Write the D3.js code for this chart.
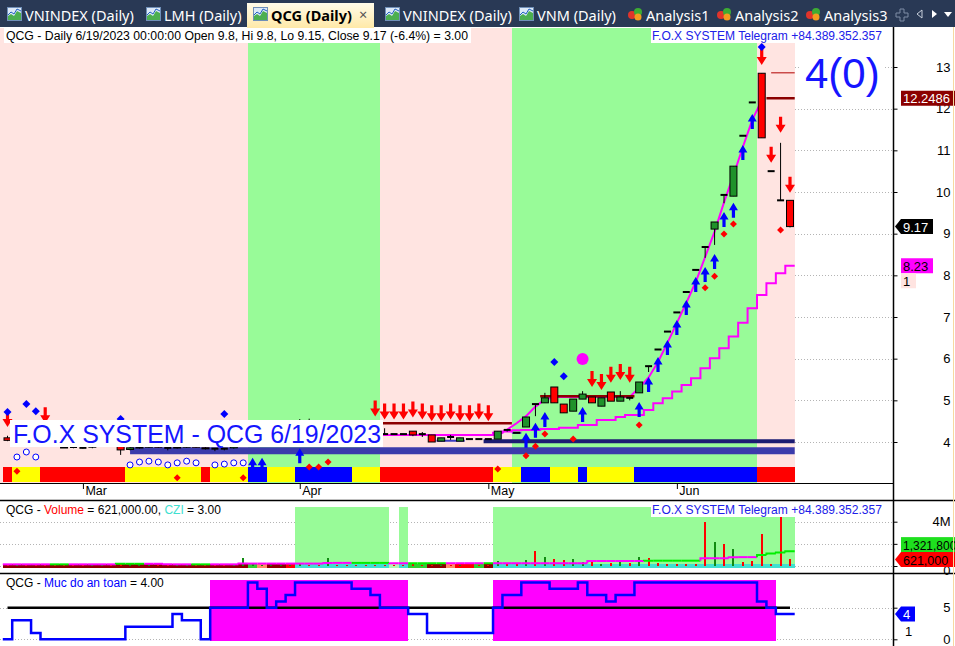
<!DOCTYPE html>
<html>
<head>
<meta charset="utf-8">
<script src="https://cdn.jsdelivr.net/npm/d3@7"></script>
<style>
  body { margin: 0; background: #fff; }
  svg { display: block; }
  text { font-family: "Liberation Sans", Arial, sans-serif; }
  .tab { font-family: "Noto Sans", "Open Sans", sans-serif; font-size: 14.5px; }
</style>
</head>
<body>
<svg id="chart" width="955" height="646"></svg>
<script>
// ---------------- data ----------------
var symbol = "QCG";
var dates = ["2/17","2/20","2/21","2/22","2/23","2/24","2/27","2/28",
  "3/1","3/2","3/3","3/6","3/7","3/8","3/9","3/10","3/13","3/14","3/15","3/16","3/17","3/20","3/21","3/22","3/23","3/24","3/27","3/28","3/29","3/30","3/31",
  "4/3","4/4","4/5","4/6","4/7","4/10","4/11","4/12","4/13","4/14","4/17","4/18","4/19","4/20","4/21","4/24","4/25","4/26","4/27","4/28",
  "5/4","5/5","5/8","5/9","5/10","5/11","5/12","5/15","5/16","5/17","5/18","5/19","5/22","5/23","5/24","5/25","5/26","5/29","5/30","5/31",
  "6/1","6/2","6/5","6/6","6/7","6/8","6/9","6/12","6/13","6/14","6/15","6/16","6/19"];
var monthNames = ["Jan","Feb","Mar","Apr","May","Jun","Jul","Aug","Sep","Oct","Nov","Dec"];

var open = [4.10,4.04,4.12,4.10,4.04,3.98,3.88,3.88,
  3.86,3.88,3.90,3.92,3.93,3.82,3.86,3.88,3.90,3.86,3.86,3.88,3.90,3.86,3.84,3.84,3.86,3.90,3.98,4.08,4.18,4.22,4.26,
  4.32,4.50,4.44,4.40,4.48,4.38,4.32,4.28,4.24,4.19,4.19,4.19,4.26,4.19,4.17,4.02,4.12,4.02,4.07,4.07,
  4.07,4.07,4.29,4.22,4.36,4.91,4.94,5.32,4.91,4.74,5.03,5.08,4.86,5.20,4.98,5.06,5.18,5.82,6.22,6.65,
  7.11,7.60,8.13,8.68,9.11,9.93,9.90,11.35,12.15,12.85,10.50,9.80,9.80];
var high = [4.15,4.10,4.14,4.12,4.06,4.00,3.92,3.92,
  3.90,3.92,3.94,3.95,3.95,3.88,3.90,3.92,3.92,3.86,3.90,3.92,3.94,3.88,3.84,3.84,3.92,4.00,4.10,4.20,4.26,4.30,4.36,
  4.55,4.56,4.50,4.52,4.50,4.42,4.36,4.32,4.28,4.33,4.19,4.19,4.26,4.24,4.17,4.10,4.17,4.10,4.07,4.07,
  4.07,4.26,4.29,4.22,4.60,4.91,5.18,5.32,4.91,5.03,5.22,5.08,5.06,5.20,5.22,5.06,5.44,5.82,6.22,6.65,
  7.11,7.60,8.13,8.68,9.28,9.93,10.62,11.35,12.15,12.85,10.50,11.18,9.80];
var low = [4.02,4.00,4.04,4.02,3.96,3.92,3.86,3.85,
  3.84,3.85,3.88,3.88,3.69,3.80,3.84,3.86,3.86,3.80,3.84,3.86,3.86,3.82,3.78,3.80,3.84,3.88,3.96,4.06,4.14,4.18,4.22,
  4.30,4.40,4.36,4.38,4.36,4.28,4.24,4.20,4.18,4.19,4.19,4.19,4.14,4.12,4.00,4.02,4.05,4.02,4.07,4.07,
  4.07,4.07,4.25,4.22,4.36,4.62,4.94,4.94,4.70,4.74,5.03,4.94,4.86,4.98,4.98,5.00,5.18,5.68,6.22,6.65,
  7.11,7.60,8.13,8.42,8.73,9.73,9.90,11.35,12.15,11.30,10.50,9.80,9.15];
var close = [4.04,4.08,4.08,4.04,3.98,3.95,3.86,3.88,
  3.86,3.90,3.92,3.90,3.81,3.86,3.88,3.90,3.88,3.86,3.88,3.90,3.88,3.84,3.84,3.84,3.90,3.98,4.08,4.18,4.22,4.26,4.32,
  4.50,4.44,4.40,4.48,4.38,4.32,4.28,4.24,4.20,4.19,4.19,4.19,4.17,4.19,4.00,4.10,4.12,4.10,4.07,4.07,
  4.07,4.26,4.29,4.22,4.60,4.91,5.06,4.94,4.70,5.03,5.15,4.94,5.06,4.98,5.08,5.06,5.44,5.82,6.22,6.65,
  7.11,7.60,8.13,8.68,9.28,9.93,10.62,11.35,12.15,11.30,10.50,9.80,9.17];

// volume in millions of shares
var volume = [0.12,0.20,0.22,0.10,0.08,0.10,0.08,0.06,
  0.10,0.08,0.06,0.08,0.22,0.06,0.08,0.05,0.07,0.06,0.08,0.06,0.05,0.07,0.10,0.20,0.10,0.72,0.15,0.12,0.10,0.12,0.10,
  0.15,0.10,0.12,0.75,0.10,0.12,0.08,0.10,0.12,0.10,0.08,0.10,0.15,0.10,0.12,0.10,0.10,0.12,0.08,0.08,
  0.10,0.47,0.19,0.25,0.56,1.33,0.78,0.65,0.56,0.65,0.40,0.40,0.15,0.25,0.50,0.30,0.78,0.70,0.25,0.15,
  0.19,0.19,0.15,3.97,2.20,2.00,1.50,0.34,0.47,2.90,0.19,4.60,0.621];
var volMA = [0.15,0.15,0.15,0.15,0.15,0.15,0.15,0.15,0.15,0.15,0.15,0.15,
  0.20,0.20,0.20,0.20,0.20,
  0.15,0.15,0.15,0.15,0.15,0.15,0.15,0.15,
  0.22,0.22,0.22,0.22,0.22,0.22,0.22,0.22,0.22,
  0.28,0.28,0.28,0.28,0.28,0.28,0.28,
  0.25,0.25,0.25,0.25,0.25,0.25,0.25,0.25,0.25,0.25,0.25,
  0.25,0.25,0.25,0.25,0.25,0.25,0.25,0.25,0.25,0.25,
  0.45,0.45,0.45,0.45,0.45,0.45,
  0.48,0.48,0.48,0.48,0.48,0.48,
  0.70,0.70,0.70,0.80,0.80,0.80,1.00,1.12,1.22,1.3218];
var volMAColor = "MMMMMGGMMMMMGGGMMMMMGGMMMMMMMMMMMMMMMGGGGMMGGGGMMMMGMMMMMMMMMMMMMMMMGGGGGGMMMMMMGGGG".split("");
var volStrip   = "DDDDDDDDDDDDDDDDDDDDDDDDDDGSDDRTTTTTTTTTTLTGGDDSRRGDTTTTTTTTTTTTTTTTTTTTTTTTTTTTTTTT".split("");
var volZone    = "-------------------------------GGGGGGGGGG-G---------GGGGGGGGGGGGGGGGGGGGGGGGGGGGGGGG".split("");

var bgZone = "PPPPPPPPPPPPPPPPPPPPPPPPPPGGGGGGGGGGGGGGPPPPPPPPPPPPPPGGGGGGGGGGGGGGGGGGGGGGGGGGPPPP".split("");
var ribbon = "RYYYRRRRRRRRRYYYYYYYYRYYYYBBYYYBBBBBBYYYRRRRRRRRRRRRYYYBBBYYYBYYYYYBBBBBBBBBBBBBRRRR".split("");

// "Muc do an toan" level per bar
var safety = [0,3,3,1,0,0,0,0,0,0,0,0,0,2,2,2,2,2,4,3,3,0,5,5,5,5,9,8,5,6,7,9,9,9,9,9,9,8,8,7,
  5,5,5,4,4,1,1,1,1,1,1,1,5,7,7,9,9,9,8,8,8,9,7,7,6,7,7,9,9,9,9,9,9,9,9,9,9,9,9,9,6,5,4,4];
var safetyLine = 5;

// two trailing lines (start bar + values)
var fastStart = 39;
var fastLine = [4.17,4.17,4.17,4.17,4.17,4.17,4.17,4.17,4.17,4.17,4.17,4.17,4.17,4.17,
  4.30,4.45,4.62,4.85,5.02,5.08,5.08,5.08,5.08,5.08,5.08,5.08,5.08,5.08,
  5.30,5.55,5.92,6.38,6.86,7.34,7.84,8.44,9.05,9.75,10.40,11.08,11.73,12.20];
var slowStart = 39;
var slowLine = [4.17,4.17,4.17,4.17,4.17,4.17,4.17,4.17,4.17,4.17,4.17,4.17,4.17,
  4.22,4.25,4.28,4.29,4.29,4.31,4.31,4.34,4.34,4.41,4.41,4.53,4.53,4.60,4.65,4.65,
  4.77,4.93,5.05,5.21,5.37,5.53,5.77,6.01,6.25,6.53,6.86,7.21,7.53,7.81,8.05,8.23];

// horizontal levels: [fromBar, toBar, price]
var resistLevels = [[39.5,53.5,4.45],[56.5,66.5,5.10],[80.5,83.5,12.25]];
var highLevels = [[81,83.5,12.86]];
var slateLevels = [[13,83.5,3.79]];
var navyLevels = [[50.5,83.5,4.02]];
var thinLevels = [[45.5,48.5,4.03],[53.5,54.5,4.22]];

// signals: [bar, price]
var redDown = [[0,4.36],[4,4.45],[39,4.61],[40,4.54],[41,4.54],[42,4.54],[43,4.59],[44,4.54],[45,4.50],[46,4.50],
  [47,4.54],[48,4.50],[49,4.50],[50,4.54],[51,4.50],[62,5.32],[63,5.25],[64,5.42],[65,5.49],[66,5.42],
  [80,13.05],[81,10.70],[82,11.42],[83,9.98]];
var blueUp = [[26,3.62],[27,3.62],[31,3.85],[55,4.22],[56,4.46],[57,4.72],[61,4.84],[67,4.96],[68,5.56],[69,6.04],
  [70,6.45],[71,6.93],[72,7.41],[73,7.96],[74,8.20],[75,8.51],[76,9.52],[77,9.74],[78,11.13],[79,11.87]];
var redDiamonds = [[1,3.30],[18,3.14],[25,3.14],[32,3.40],[33,3.40],[34,3.52],[52,3.35],[55,3.67],[56,3.90],
  [57,4.19],[60,4.07],[67,4.41],[74,7.70],[75,7.98],[76,8.99],[77,9.23],[82,9.09]];
var blueDiamonds = [[0,4.72],[2,4.91],[3,4.74],[12,4.55],[23,4.67],[58,5.92],[59,5.58],[80,13.48]];
var hollowDots = [[1,3.64],[2,3.76],[3,3.64],[13,3.45],[14,3.52],[15,3.54],[16,3.52],[17,3.45],[18,3.50],
  [19,3.54],[20,3.50],[22,3.45],[23,3.47],[24,3.50],[25,3.50]];
var bigDots = [[61,5.99]];

var priceTicks = [4,5,6,7,8,9,10,11,12,13];
var volTicks = [0,2,4];
var volTickLabels = ["0","","4M"];
var safetyTicks = [0,5];
var countLabel = "4(0)";
var extraValue = 1;

// ---------------- colours ----------------
var pink = "#ffe4e1", lightGreen = "#98fb98";
var candleGreen = "#1f922a";
var ribbonColor = { R: "#ff0000", Y: "#ffff00", B: "#0000ff" };
var stripColor = { D: "#8b0000", G: "#32cd32", S: "#ff8c69", R: "#ff0000", T: "#40e0d0", L: "#b4f5b4" };
var maColor = { M: "#ff00ff", G: "#00ee00" };

// ---------------- scales ----------------
var n = dates.length;
var x = d3.scaleLinear().domain([0, n - 1]).range([7.5, 790]);
var bw = x(1) - x(0);
var y = d3.scaleLinear().domain([4, 13]).range([442, 67]);
var yv = d3.scaleLinear().domain([0, 4]).range([566, 521.7]);
var ys = d3.scaleLinear().domain([0, 5]).range([639.3, 607.7]);

var axisX = 893.5;
var svg = d3.select("#chart");

function runs(codes) {
  var out = [];
  codes.forEach(function(c, i) {
    if (out.length && out[out.length - 1].code === c) out[out.length - 1].end = i;
    else out.push({ code: c, start: i, end: i });
  });
  return out;
}
function barLeft(i) { return x(i) - bw / 2; }
function barRight(i) { return x(i) + bw / 2; }

// ---------------- tab bar ----------------
svg.append("rect").attr("width", 955).attr("height", 27).attr("fill", "#293955");
var defs = svg.append("defs");
var grad = defs.append("linearGradient").attr("id", "activeTab").attr("x1", 0).attr("x2", 0).attr("y1", 0).attr("y2", 1);
grad.append("stop").attr("offset", "0%").attr("stop-color", "#fffbe9");
grad.append("stop").attr("offset", "100%").attr("stop-color", "#ffe9a8");
svg.append("rect").attr("x", 247).attr("y", 3).attr("width", 127).attr("height", 25).attr("fill", "url(#activeTab)");

var tabs = [
  { label: "VNINDEX (Daily)", x: 7, type: "chart" },
  { label: "LMH (Daily)", x: 146, type: "chart" },
  { label: "QCG (Daily)", x: 253, type: "chart", active: true },
  { label: "VNINDEX (Daily)", x: 385, type: "chart" },
  { label: "VNM (Daily)", x: 519, type: "chart" },
  { label: "Analysis1", x: 628, type: "analysis" },
  { label: "Analysis2", x: 717, type: "analysis" },
  { label: "Analysis3", x: 806, type: "analysis" }
];
tabs.forEach(function(t) {
  var g = svg.append("g").attr("transform", "translate(" + t.x + ",7)");
  if (t.type === "chart") {
    g.append("rect").attr("x", 0.5).attr("y", 0.5).attr("width", 14).attr("height", 13).attr("fill", "#dce9f8").attr("stroke", "#6f8fb8");
    g.append("path").attr("d", "M1,13 L1,9 L4,7 L7,9 L10,4 L14,6 L14,13 Z").attr("fill", "#4caf50");
    g.append("path").attr("d", "M1,8 L4,5 L7,7 L10,2 L14,4").attr("fill", "none").attr("stroke", "#2060c0").attr("stroke-width", 1);
  } else {
    g.append("circle").attr("cx", 4).attr("cy", 8).attr("r", 4).attr("fill", "#e0342b");
    g.append("circle").attr("cx", 10).attr("cy", 5).attr("r", 4).attr("fill", "#3dac34");
    g.append("circle").attr("cx", 10).attr("cy", 10).attr("r", 3.5).attr("fill", "#f39c1f");
  }
  svg.append("text").attr("class", "tab")
    .attr("x", t.x + 18).attr("y", 21)
    .attr("fill", t.active ? "#000" : "#fff")
    .attr("font-weight", t.active ? "bold" : "normal")
    .text(t.label);
});
svg.append("text").attr("class", "tab").attr("x", 359).attr("y", 20).attr("fill", "#555").attr("font-size", "13px").text("\u00d7");
// navigation icons
svg.append("path").attr("d", "M900,9h4v4h4v4h-4v4h-4v-4h-4v-4h4z").attr("fill", "none").attr("stroke", "#7f8da6");
svg.append("path").attr("d", "M922,10 L917,14 L922,18 Z").attr("fill", "none").attr("stroke", "#c8d0dc");
svg.append("path").attr("d", "M932,10 L937,14 L932,18 Z").attr("fill", "#fff");
svg.append("path").attr("d", "M944,12 L952,12 L948,17 Z").attr("fill", "#fff");

// ---------------- main price pane ----------------
var main = svg.append("g");

// dotted grid
main.selectAll(".pgrid").data(priceTicks).join("line")
  .attr("x1", 0).attr("x2", axisX).attr("y1", function(d) { return Math.round(y(d)) + 0.5; })
  .attr("y2", function(d) { return Math.round(y(d)) + 0.5; })
  .attr("stroke", "#b4b4b4").attr("stroke-dasharray", "1,2");

// background zones
main.selectAll(".zone").data(runs(bgZone)).join("rect")
  .attr("x", function(r) { return r.start === 0 ? 0 : barLeft(r.start); })
  .attr("width", function(r) { return barRight(r.end) - (r.start === 0 ? 0 : barLeft(r.start)); })
  .attr("y", 28).attr("height", 455)
  .attr("fill", function(r) { return r.code === "P" ? pink : lightGreen; })
  .attr("shape-rendering", "crispEdges");

// colour ribbon
main.selectAll(".rib").data(runs(ribbon)).join("rect")
  .attr("x", function(r) { return barLeft(r.start); })
  .attr("width", function(r) { return barRight(r.end) - barLeft(r.start); })
  .attr("y", 467).attr("height", 15)
  .attr("fill", function(r) { return ribbonColor[r.code]; })
  .attr("shape-rendering", "crispEdges");

function levelLines(data, color, width) {
  main.append("g").selectAll("line").data(data).join("line")
    .attr("x1", function(d) { return x(d[0]); }).attr("x2", function(d) { return x(d[1]); })
    .attr("y1", function(d) { return y(d[2]); }).attr("y2", function(d) { return y(d[2]); })
    .attr("stroke", color).attr("stroke-width", width);
}
levelLines(slateLevels, "#3b3bab", 7);
levelLines(navyLevels, "#1c1c72", 4);
levelLines(thinLevels, "#3c3cc0", 2);

// slow (stepped) and fast magenta lines
var slowPts = slowLine.map(function(v, k) { return [barLeft(slowStart + k), y(v)]; });
slowPts.push([barRight(slowStart + slowLine.length - 1), y(slowLine[slowLine.length - 1])]);
main.append("path").datum(slowPts)
  .attr("d", d3.line().curve(d3.curveStepAfter))
  .attr("fill", "none").attr("stroke", "#ff00ff").attr("stroke-width", 2);
main.append("path").datum(fastLine.map(function(v, k) { return [x(fastStart + k), y(v)]; }))
  .attr("d", d3.line())
  .attr("fill", "none").attr("stroke", "#ff00ff").attr("stroke-width", 2);

levelLines(resistLevels, "#8b0000", 2.5);
levelLines(highLevels, "#b00000", 1);

// candles
var bars = dates.map(function(d, i) {
  return { i: i, date: d, o: open[i], h: high[i], l: low[i], c: close[i] };
});
var cg = main.append("g");
cg.selectAll(".wick").data(bars.filter(function(b) { return b.h > b.l; })).join("line")
  .attr("x1", function(b) { return x(b.i); }).attr("x2", function(b) { return x(b.i); })
  .attr("y1", function(b) { return y(b.h); }).attr("y2", function(b) { return y(b.l); })
  .attr("stroke", "#000");
cg.selectAll(".doji").data(bars.filter(function(b) { return b.o === b.c; })).join("line")
  .attr("x1", function(b) { return x(b.i) - 3.5; }).attr("x2", function(b) { return x(b.i) + 3.5; })
  .attr("y1", function(b) { return y(b.c); }).attr("y2", function(b) { return y(b.c); })
  .attr("stroke", "#000").attr("stroke-width", 2);
cg.selectAll(".body").data(bars.filter(function(b) { return b.o !== b.c; })).join("rect")
  .attr("x", function(b) { return x(b.i) - 3.5; }).attr("width", 7)
  .attr("y", function(b) { return y(Math.max(b.o, b.c)); })
  .attr("height", function(b) { return Math.max(1, Math.abs(y(b.o) - y(b.c))); })
  .attr("fill", function(b) { return b.c > b.o ? candleGreen : "#ff0000"; })
  .attr("stroke", "#000");

// signal markers
function downArrow(d) {
  var cx = x(d[0]), t = y(d[1]);
  return "M" + (cx - 1.6) + "," + (t - 16) + "H" + (cx + 1.6) + "V" + (t - 8) + "H" + (cx + 5) +
    "L" + cx + "," + t + "L" + (cx - 5) + "," + (t - 8) + "H" + (cx - 1.6) + "Z";
}
function upArrow(d) {
  var cx = x(d[0]), t = y(d[1]);
  return "M" + (cx - 1.6) + "," + (t + 15) + "H" + (cx + 1.6) + "V" + (t + 7.5) + "H" + (cx + 4.5) +
    "L" + cx + "," + t + "L" + (cx - 4.5) + "," + (t + 7.5) + "H" + (cx - 1.6) + "Z";
}
function diamond(d, r) {
  var cx = x(d[0]), cy = y(d[1]);
  return "M" + cx + "," + (cy - r) + "L" + (cx + r) + "," + cy + "L" + cx + "," + (cy + r) + "L" + (cx - r) + "," + cy + "Z";
}
main.selectAll(".rd").data(redDown).join("path").attr("d", downArrow).attr("fill", "#ff0000");
main.selectAll(".bu").data(blueUp).join("path").attr("d", upArrow).attr("fill", "#0000ff");
main.selectAll(".rdi").data(redDiamonds).join("path").attr("d", function(d) { return diamond(d, 3.5); }).attr("fill", "#ff0000");
main.selectAll(".bdi").data(blueDiamonds).join("path").attr("d", function(d) { return diamond(d, 4); }).attr("fill", "#0000ff");
main.selectAll(".hol").data(hollowDots).join("circle")
  .attr("cx", function(d) { return x(d[0]); }).attr("cy", function(d) { return y(d[1]); })
  .attr("r", 3).attr("fill", "#fff").attr("stroke", "#0000ff");
main.selectAll(".big").data(bigDots).join("circle")
  .attr("cx", function(d) { return x(d[0]); }).attr("cy", function(d) { return y(d[1]); })
  .attr("r", 6).attr("fill", "#ff00ff");

// big watermark label
var lastDate = dates[n - 1] + "/2023";
main.append("rect").attr("x", 10).attr("y", 420).attr("width", 373).attr("height", 27).attr("fill", "#fff");
main.append("text").attr("x", 13).attr("y", 443).attr("font-size", "25px").attr("fill", "#1515ff")
  .attr("textLength", 368).attr("lengthAdjust", "spacingAndGlyphs")
  .text("F.O.X SYSTEM - " + symbol + " " + lastDate);

main.append("rect").attr("x", 800).attr("y", 50).attr("width", 84).attr("height", 46).attr("fill", "#fff");
main.append("text").attr("x", 805).attr("y", 88).attr("font-size", "42px").attr("fill", "#1515ff").text(countLabel);

// title lines
var pct = ((close[n - 1] / close[n - 2] - 1) * 100).toFixed(1);
main.append("rect").attr("x", 4).attr("y", 28).attr("width", 467).attr("height", 15).attr("fill", "#fff");
main.append("text").attr("x", 6).attr("y", 40).attr("font-size", "12px").attr("fill", "#000")
  .attr("textLength", 462).attr("lengthAdjust", "spacingAndGlyphs")
  .text(symbol + " - Daily 6/19/2023 00:00:00 Open " + open[n - 1] + ", Hi " + high[n - 1] + ", Lo " + low[n - 1] +
    ", Close " + close[n - 1] + " (" + pct + "%)   = 3.00");
function telegram(g, top) {
  g.append("rect").attr("x", 651).attr("y", top).attr("width", 233).attr("height", 15).attr("fill", "#fff");
  g.append("text").attr("x", 652).attr("y", top + 12).attr("font-size", "12px").attr("fill", "#2020e8")
    .attr("textLength", 230).attr("lengthAdjust", "spacingAndGlyphs")
    .text("F.O.X SYSTEM Telegram +84.389.352.357");
}
telegram(main, 28);

// x axis with month ticks
var monthStarts = [];
dates.forEach(function(d, i) {
  if (i > 0 && d.split("/")[0] !== dates[i - 1].split("/")[0]) monthStarts.push(i);
});
main.append("line").attr("x1", 0).attr("x2", axisX).attr("y1", 483.5).attr("y2", 483.5).attr("stroke", "#000");
var xAxis = d3.axisBottom(x).tickValues(monthStarts).tickSize(6)
  .tickFormat(function(i) { return monthNames[+dates[i].split("/")[0] - 1]; });
main.append("g").attr("transform", "translate(0,483)").call(xAxis)
  .call(function(g) {
    g.select(".domain").remove();
    g.selectAll("text").attr("x", 2).attr("y", 3).attr("dy", "0.71em").attr("text-anchor", "start")
      .attr("font-size", "12.5px").attr("font-family", "Liberation Sans, Arial, sans-serif");
  });

// right price axis
var yAxis = d3.axisRight(y).tickValues(priceTicks).tickSize(4);
main.append("g").attr("transform", "translate(" + axisX + ",0)").call(yAxis)
  .call(function(g) {
    g.select(".domain").remove();
    g.selectAll("text").attr("x", 57).attr("text-anchor", "end")
      .attr("font-size", "13px").attr("font-family", "Liberation Sans, Arial, sans-serif");
  });

// value tags on the axis
function tag(g, val, cy, bg, fg, arrow, left, right, size) {
  var l = left || 901, r = right || 955;
  if (arrow) {
    g.append("path").attr("d", "M" + (l - 6) + "," + cy + "L" + l + "," + (cy - 7.5) + "H" + r + "V" + (cy + 7.5) + "H" + l + "Z").attr("fill", bg);
  } else {
    g.append("rect").attr("x", l).attr("y", cy - 7.5).attr("width", r - l).attr("height", 15).attr("fill", bg);
  }
  g.append("text").attr("x", l + 2).attr("y", cy + 5).attr("font-size", size || "13px").attr("fill", fg).text(val);
}
tag(main, "12.2486", y(resistLevels[2][2]), "#8b0000", "#fff", false);
tag(main, close[n - 1].toFixed(2), y(close[n - 1]), "#000", "#fff", true, 901, 933);
tag(main, slowLine[slowLine.length - 1].toFixed(2), y(slowLine[slowLine.length - 1]), "#ff00ff", "#000", false, 901, 933);
tag(main, String(extraValue), y(slowLine[slowLine.length - 1]) + 15, pink, "#000", false, 901, 916);

// ---------------- volume pane ----------------
var vol = svg.append("g");
vol.append("line").attr("x1", 0).attr("x2", 955).attr("y1", 500.5).attr("y2", 500.5).attr("stroke", "#000").attr("stroke-width", 1.5);
vol.selectAll(".vgrid").data(volTicks).join("line")
  .attr("x1", 0).attr("x2", axisX)
  .attr("y1", function(d) { return Math.round(yv(d)) + 0.5; }).attr("y2", function(d) { return Math.round(yv(d)) + 0.5; })
  .attr("stroke", "#b4b4b4").attr("stroke-dasharray", "1,2");
vol.selectAll(".vz").data(runs(volZone).filter(function(r) { return r.code === "G"; })).join("rect")
  .attr("x", function(r) { return barLeft(r.start); })
  .attr("width", function(r) { return barRight(r.end) - barLeft(r.start); })
  .attr("y", 507).attr("height", 59).attr("fill", lightGreen).attr("shape-rendering", "crispEdges");
vol.selectAll(".strip").data(runs(volStrip)).join("rect")
  .attr("x", function(r) { return barLeft(r.start); })
  .attr("width", function(r) { return barRight(r.end) - barLeft(r.start); })
  .attr("y", 564).attr("height", 4).attr("fill", function(r) { return stripColor[r.code]; })
  .attr("shape-rendering", "crispEdges");
vol.selectAll(".vbar").data(bars).join("rect")
  .attr("x", function(b) { return x(b.i) - 1; }).attr("width", 2)
  .attr("y", function(b) { return yv(volume[b.i]); })
  .attr("height", function(b) { return yv(0) - yv(volume[b.i]); })
  .attr("fill", function(b) { return b.c > b.o ? "#118c11" : "#ff0000"; })
  .attr("shape-rendering", "crispEdges");
// stepped volume average, coloured per bar
vol.selectAll(".ma").data(bars).join("path")
  .attr("d", function(b) {
    var yy = yv(volMA[b.i]);
    var prev = b.i > 0 ? yv(volMA[b.i - 1]) : yy;
    return "M" + barLeft(b.i) + "," + prev + "V" + yy + "H" + barRight(b.i);
  })
  .attr("fill", "none").attr("stroke-width", 2)
  .attr("stroke", function(b) { return maColor[volMAColor[b.i]]; });

var vt = vol.append("text").attr("x", 6).attr("y", 514).attr("font-size", "12px");
vt.append("tspan").attr("fill", "#000").text(symbol + " - ");
vt.append("tspan").attr("fill", "#ff0000").text("Volume");
vt.append("tspan").attr("fill", "#000").text(" = " + d3.format(",.2f")(volume[n - 1] * 1e6) + ", ");
vt.append("tspan").attr("fill", "#40e0d0").text("CZI");
vt.append("tspan").attr("fill", "#000").text(" = 3.00");
telegram(vol, 502);

var vAxis = d3.axisRight(yv).tickValues(volTicks).tickSize(4)
  .tickFormat(function(d, k) { return volTickLabels[k]; });
vol.append("g").attr("transform", "translate(" + axisX + ",0)").call(vAxis)
  .call(function(g) {
    g.select(".domain").remove();
    g.selectAll("text").attr("x", 57).attr("text-anchor", "end")
      .attr("font-size", "13px").attr("font-family", "Liberation Sans, Arial, sans-serif");
    g.selectAll("text").filter(function(d) { return d === 0; }).attr("y", 4);
  });
tag(vol, d3.format(",")(Math.round(volMA[n - 1] * 1e6)), yv(volume[n - 1]) - 14.5, "#1ee01e", "#000", false, 901, 955, "12px");
tag(vol, d3.format(",")(Math.round(volume[n - 1] * 1e6)), yv(volume[n - 1]) + 0.5, "#ff0000", "#000", true, 901, 955, "12.5px");

// ---------------- safety pane ----------------
var saf = svg.append("g");
saf.append("line").attr("x1", 0).attr("x2", 955).attr("y1", 573.5).attr("y2", 573.5).attr("stroke", "#000").attr("stroke-width", 1.5);
saf.selectAll(".sgrid").data(safetyTicks).join("line")
  .attr("x1", 0).attr("x2", axisX)
  .attr("y1", function(d) { return Math.round(ys(d)) + 0.5; }).attr("y2", function(d) { return Math.round(ys(d)) + 0.5; })
  .attr("stroke", "#b4b4b4").attr("stroke-dasharray", "1,2");
var safeFlags = safety.map(function(v) { return v >= safetyLine ? "S" : "-"; });
saf.selectAll(".sz").data(runs(safeFlags).filter(function(r) { return r.code === "S"; })).join("rect")
  .attr("x", function(r) { return barLeft(r.start); })
  .attr("width", function(r) { return barRight(r.end) - barLeft(r.start); })
  .attr("y", 580).attr("height", 61).attr("fill", "#ff00ff").attr("shape-rendering", "crispEdges");
saf.append("line").attr("x1", x(0)).attr("x2", x(n - 1)).attr("y1", ys(safetyLine)).attr("y2", ys(safetyLine))
  .attr("stroke", "#000").attr("stroke-width", 2.5);
var safePts = safety.map(function(v, i) { return [barLeft(i), ys(v)]; });
safePts.push([barRight(n - 1), ys(safety[n - 1])]);
saf.append("path").datum(safePts).attr("d", d3.line().curve(d3.curveStepAfter))
  .attr("fill", "none").attr("stroke", "#0000ff").attr("stroke-width", 2.5);

var st = saf.append("text").attr("x", 6).attr("y", 587).attr("font-size", "12px");
st.append("tspan").attr("fill", "#000").text(symbol + " - ");
st.append("tspan").attr("fill", "#0000ff").text("Muc do an toan");
st.append("tspan").attr("fill", "#000").text(" = " + safety[n - 1].toFixed(2));

var sAxis = d3.axisRight(ys).tickValues(safetyTicks).tickSize(4).tickFormat(d3.format("d"));
saf.append("g").attr("transform", "translate(" + axisX + ",0)").call(sAxis)
  .call(function(g) {
    g.select(".domain").remove();
    g.selectAll("text").attr("x", 57).attr("text-anchor", "end")
      .attr("font-size", "13px").attr("font-family", "Liberation Sans, Arial, sans-serif");
  });
tag(saf, String(safety[n - 1]), ys(safety[n - 1]), "#0000ff", "#fff", true, 901, 915);
saf.append("text").attr("x", 905).attr("y", 636).attr("font-size", "13px").attr("fill", "#000").text(String(extraValue));

// ---------------- frame lines ----------------
svg.append("line").attr("x1", axisX).attr("x2", axisX).attr("y1", 27).attr("y2", 646).attr("stroke", "#000").attr("stroke-width", 1.5);
svg.append("line").attr("x1", 953.5).attr("x2", 953.5).attr("y1", 27).attr("y2", 646).attr("stroke", "#f7d9a0");
</script>
</body>
</html>
